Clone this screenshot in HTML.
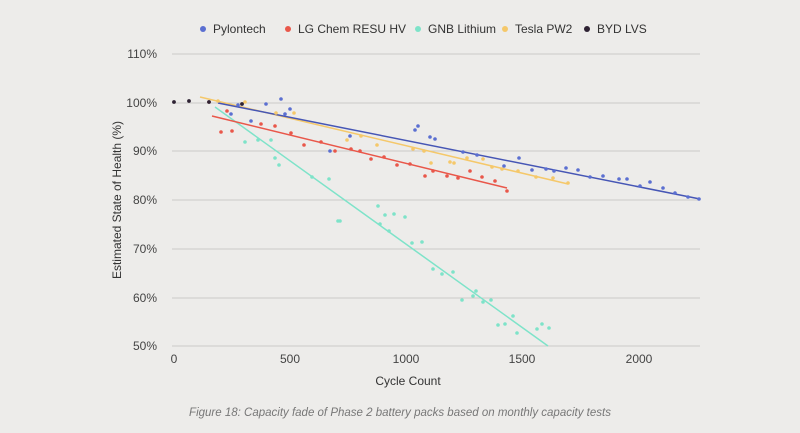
<!DOCTYPE html><html><head><style>body{margin:0;background:#edecea;}svg{display:block;font-family:"Liberation Sans",sans-serif}</style></head><body>
<svg width="800" height="433" viewBox="0 0 800 433">
<rect width="800" height="433" fill="#edecea"/>
<g stroke="#cbcac8" stroke-width="1">
<line x1="172" x2="700" y1="54" y2="54"/><line x1="172" x2="700" y1="103" y2="103"/><line x1="172" x2="700" y1="151" y2="151"/><line x1="172" x2="700" y1="200" y2="200"/><line x1="172" x2="700" y1="249" y2="249"/><line x1="172" x2="700" y1="298" y2="298"/><line x1="172" x2="700" y1="346" y2="346"/>
</g>
<g font-size="12" fill="#444" text-anchor="end">
<text x="157" y="58">110%</text><text x="157" y="107">100%</text><text x="157" y="155">90%</text><text x="157" y="204">80%</text><text x="157" y="253">70%</text><text x="157" y="302">60%</text><text x="157" y="350">50%</text>
</g>
<g font-size="12" fill="#444" text-anchor="middle">
<text x="174" y="363">0</text><text x="290" y="363">500</text><text x="406" y="363">1000</text><text x="522" y="363">1500</text><text x="639" y="363">2000</text>
</g>
<text x="408" y="385" font-size="12" fill="#333" text-anchor="middle">Cycle Count</text>
<text transform="translate(121,200) rotate(-90)" font-size="12" fill="#333" text-anchor="middle">Estimated State of Health (%)</text>
<text x="400" y="416" font-size="11.5" fill="#777" font-style="italic" text-anchor="middle">Figure 18: Capacity fade of Phase 2 battery packs based on monthly capacity tests</text>
<g font-size="12" fill="#333">
<circle cx="203" cy="29" r="3" fill="#5b6fd1"/><text x="213" y="33">Pylontech</text>
<circle cx="288" cy="29" r="3" fill="#e9574a"/><text x="298" y="33">LG Chem RESU HV</text>
<circle cx="418" cy="29" r="3" fill="#7ee3c9"/><text x="428" y="33">GNB Lithium</text>
<circle cx="505" cy="29" r="3" fill="#f5c86a"/><text x="515" y="33">Tesla PW2</text>
<circle cx="587" cy="29" r="3" fill="#2e2233"/><text x="597" y="33">BYD LVS</text>
</g>
<g stroke-width="1.5">
<line x1="200" y1="97" x2="568" y2="184" stroke="#f5c86a"/>
<line x1="215" y1="107" x2="548" y2="346" stroke="#7ee3c9"/>
<line x1="212" y1="116" x2="507" y2="188" stroke="#e9574a"/>
<line x1="218" y1="103" x2="700" y2="199" stroke="#4656b5"/>
</g>
<g fill="#7ee3c9">
<circle cx="245" cy="142" r="1.8"/><circle cx="258" cy="140" r="1.8"/><circle cx="271" cy="140" r="1.8"/><circle cx="275" cy="158" r="1.8"/><circle cx="279" cy="165" r="1.8"/><circle cx="312" cy="177" r="1.8"/><circle cx="329" cy="179" r="1.8"/><circle cx="338" cy="221" r="1.8"/><circle cx="340" cy="221" r="1.8"/><circle cx="378" cy="206" r="1.8"/><circle cx="385" cy="215" r="1.8"/><circle cx="394" cy="214" r="1.8"/><circle cx="405" cy="217" r="1.8"/><circle cx="380" cy="224" r="1.8"/><circle cx="389" cy="231" r="1.8"/><circle cx="412" cy="243" r="1.8"/><circle cx="422" cy="242" r="1.8"/><circle cx="433" cy="269" r="1.8"/><circle cx="442" cy="274" r="1.8"/><circle cx="453" cy="272" r="1.8"/><circle cx="462" cy="300" r="1.8"/><circle cx="473" cy="296" r="1.8"/><circle cx="476" cy="291" r="1.8"/><circle cx="483" cy="302" r="1.8"/><circle cx="491" cy="300" r="1.8"/><circle cx="498" cy="325" r="1.8"/><circle cx="505" cy="324" r="1.8"/><circle cx="513" cy="316" r="1.8"/><circle cx="517" cy="333" r="1.8"/><circle cx="537" cy="329" r="1.8"/><circle cx="542" cy="324" r="1.8"/><circle cx="549" cy="328" r="1.8"/>
</g>
<g fill="#f5c86a">
<circle cx="218" cy="101" r="1.8"/><circle cx="245" cy="102" r="1.8"/><circle cx="276" cy="113" r="1.8"/><circle cx="294" cy="113" r="1.8"/><circle cx="347" cy="140" r="1.8"/><circle cx="361" cy="136" r="1.8"/><circle cx="377" cy="145" r="1.8"/><circle cx="413" cy="149" r="1.8"/><circle cx="424" cy="151" r="1.8"/><circle cx="431" cy="163" r="1.8"/><circle cx="450" cy="162" r="1.8"/><circle cx="454" cy="163" r="1.8"/><circle cx="467" cy="158" r="1.8"/><circle cx="483" cy="159" r="1.8"/><circle cx="492" cy="167" r="1.8"/><circle cx="502" cy="169" r="1.8"/><circle cx="518" cy="171" r="1.8"/><circle cx="536" cy="177" r="1.8"/><circle cx="553" cy="178" r="1.8"/><circle cx="568" cy="183" r="1.8"/>
</g>
<g fill="#e9574a">
<circle cx="209" cy="102" r="1.8"/><circle cx="221" cy="132" r="1.8"/><circle cx="227" cy="111" r="1.8"/><circle cx="232" cy="131" r="1.8"/><circle cx="261" cy="124" r="1.8"/><circle cx="275" cy="126" r="1.8"/><circle cx="291" cy="133" r="1.8"/><circle cx="304" cy="145" r="1.8"/><circle cx="321" cy="142" r="1.8"/><circle cx="335" cy="151" r="1.8"/><circle cx="351" cy="149" r="1.8"/><circle cx="360" cy="151" r="1.8"/><circle cx="371" cy="159" r="1.8"/><circle cx="384" cy="157" r="1.8"/><circle cx="397" cy="165" r="1.8"/><circle cx="410" cy="164" r="1.8"/><circle cx="425" cy="176" r="1.8"/><circle cx="433" cy="171" r="1.8"/><circle cx="447" cy="176" r="1.8"/><circle cx="458" cy="178" r="1.8"/><circle cx="470" cy="171" r="1.8"/><circle cx="482" cy="177" r="1.8"/><circle cx="495" cy="181" r="1.8"/><circle cx="507" cy="191" r="1.8"/>
</g>
<g fill="#5b6fd1">
<circle cx="231" cy="114" r="1.8"/><circle cx="238" cy="105" r="1.8"/><circle cx="251" cy="121" r="1.8"/><circle cx="266" cy="104" r="1.8"/><circle cx="281" cy="99" r="1.8"/><circle cx="285" cy="114" r="1.8"/><circle cx="290" cy="109" r="1.8"/><circle cx="330" cy="151" r="1.8"/><circle cx="350" cy="136" r="1.8"/><circle cx="415" cy="130" r="1.8"/><circle cx="418" cy="126" r="1.8"/><circle cx="430" cy="137" r="1.8"/><circle cx="435" cy="139" r="1.8"/><circle cx="463" cy="152" r="1.8"/><circle cx="477" cy="155" r="1.8"/><circle cx="504" cy="166" r="1.8"/><circle cx="519" cy="158" r="1.8"/><circle cx="532" cy="170" r="1.8"/><circle cx="546" cy="169" r="1.8"/><circle cx="554" cy="171" r="1.8"/><circle cx="566" cy="168" r="1.8"/><circle cx="578" cy="170" r="1.8"/><circle cx="590" cy="177" r="1.8"/><circle cx="603" cy="176" r="1.8"/><circle cx="619" cy="179" r="1.8"/><circle cx="627" cy="179" r="1.8"/><circle cx="640" cy="186" r="1.8"/><circle cx="650" cy="182" r="1.8"/><circle cx="663" cy="188" r="1.8"/><circle cx="675" cy="193" r="1.8"/><circle cx="688" cy="197" r="1.8"/><circle cx="699" cy="199" r="1.8"/>
</g>
<g fill="#2e2233">
<circle cx="174" cy="102" r="1.9"/><circle cx="189" cy="101" r="1.9"/><circle cx="209" cy="102" r="1.9"/><circle cx="242" cy="104" r="1.9"/>
</g>
</svg></body></html>
